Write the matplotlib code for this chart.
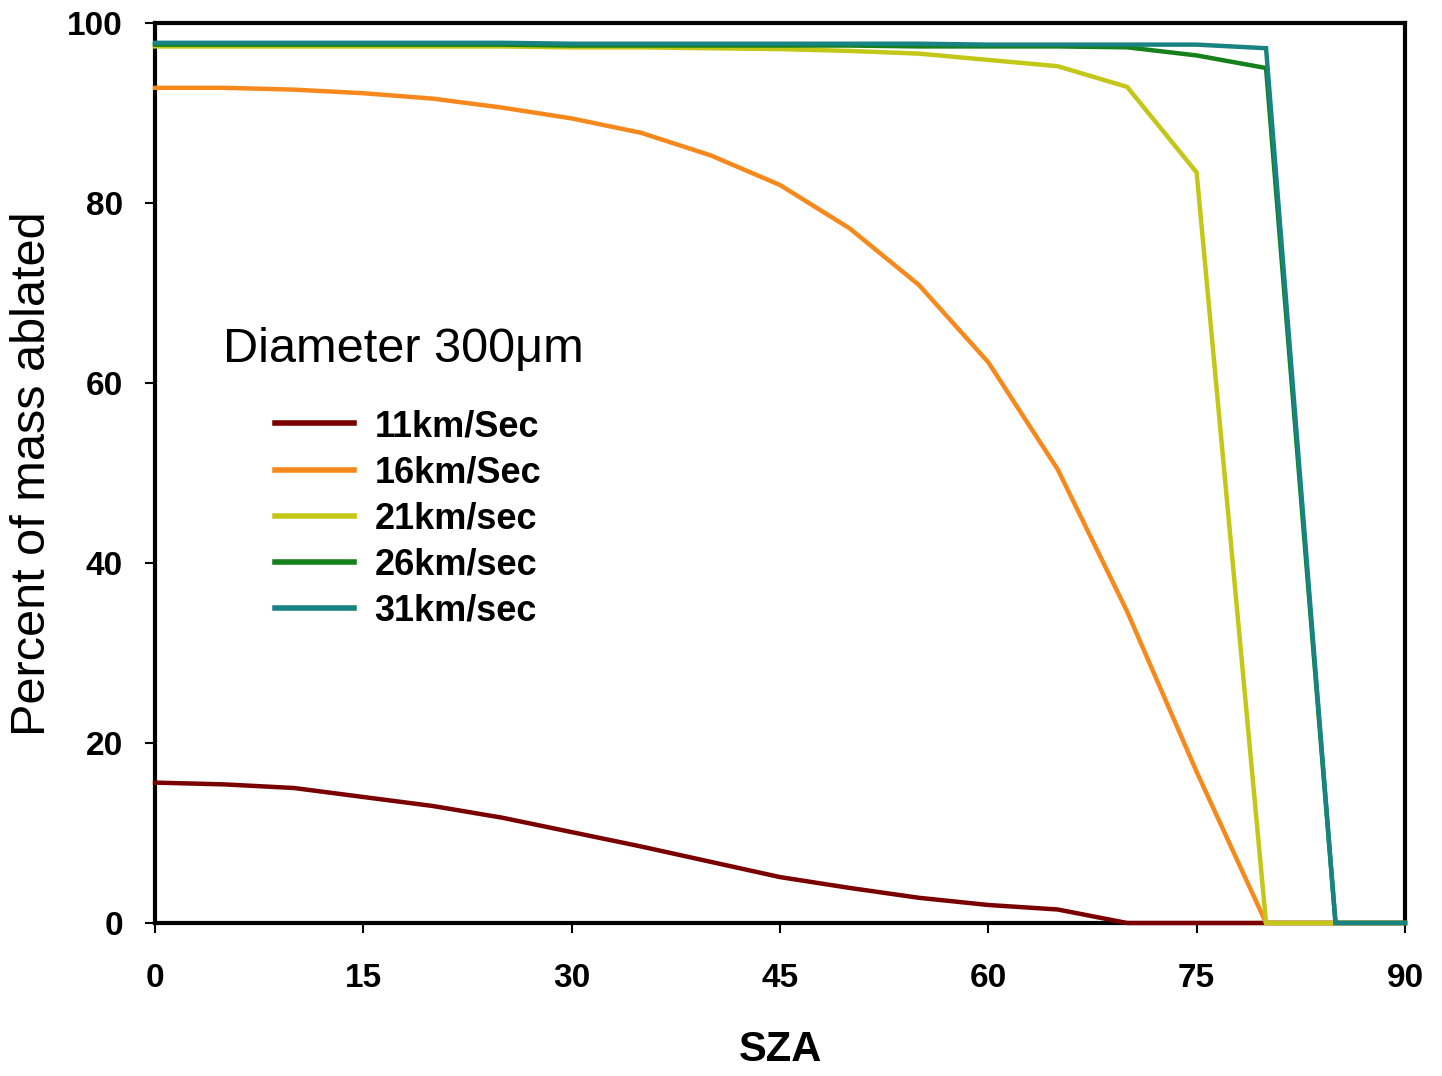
import matplotlib
matplotlib.use('Agg')
import matplotlib.pyplot as plt

plt.rcParams['font.family'] = ['Liberation Sans', 'DejaVu Sans']

sza = [0, 5, 10, 15, 20, 25, 30, 35, 40, 45, 50, 55, 60, 65, 70, 75, 80, 85, 90]

v11 = [15.6, 15.4, 15.0, 14.0, 13.0, 11.7, 10.1, 8.5, 6.8, 5.1, 3.9, 2.8, 2.0, 1.5, 0, 0, 0, 0, 0]
v16 = [92.8, 92.8, 92.6, 92.2, 91.6, 90.6, 89.4, 87.8, 85.3, 82.0, 77.2, 70.9, 62.3, 50.4, 34.6, 16.8, 0, 0, 0]
v21 = [97.4, 97.4, 97.4, 97.4, 97.4, 97.4, 97.3, 97.3, 97.2, 97.1, 96.9, 96.6, 95.9, 95.2, 92.9, 83.4, 0, 0, 0]
v26 = [97.6, 97.6, 97.6, 97.6, 97.6, 97.6, 97.5, 97.5, 97.5, 97.5, 97.5, 97.4, 97.4, 97.4, 97.3, 96.4, 95.0, 0, 0]
v31 = [97.8, 97.8, 97.8, 97.8, 97.8, 97.8, 97.7, 97.7, 97.7, 97.7, 97.7, 97.7, 97.6, 97.6, 97.6, 97.6, 97.2, 0, 0]

labels = ['11km/Sec', '16km/Sec', '21km/sec', '26km/sec', '31km/sec']
colors = ['#7a0000', '#f7891c', '#c3c717', '#15801c', '#178383']

fig = plt.figure(figsize=(14.42, 10.76), dpi=100)
ax = fig.add_axes([0.1075, 0.1422, 0.8668, 0.8364])

# zero runs sit on top of the bottom spine, like the original
for vals, lab, col in zip([v11, v16, v21, v26, v31], labels, colors):
    ax.plot(sza, vals, color=col, lw=3.2, label=lab, solid_joinstyle='miter',
            clip_on=False, zorder=3)

ax.set_xlim(0, 90)
ax.set_ylim(0, 100)
ax.set_xticks([0, 15, 30, 45, 60, 75, 90])
ax.set_yticks([0, 20, 40, 60, 80, 100])
for s in ax.spines.values():
    s.set_linewidth(3)
ax.tick_params(direction='out', length=7, width=1.5, labelsize=24)
ax.tick_params(axis='x', pad=22)
ax.tick_params(axis='y', pad=16)
for t in ax.get_xticklabels() + ax.get_yticklabels():
    t.set_fontweight('bold')

ax.set_xlabel('SZA', fontsize=30, fontweight='bold', va='center')
ax.xaxis.set_label_coords(0.5, -0.141)
ax.set_ylabel('Percent of mass ablated', fontsize=35, va='center')
ax.yaxis.set_label_coords(-0.0984, 0.499)

ax.text(0.054, 0.637, 'Diameter 300\u03bcm', transform=ax.transAxes, fontsize=35,
        va='center', ha='left')
leg = ax.legend(loc='upper left', bbox_to_anchor=(0.096, 0.571), frameon=False,
                prop={'size': 26, 'weight': 'bold'}, handlelength=2.2,
                labelspacing=0.31, handletextpad=0.55, borderpad=0,
                borderaxespad=0)
for h in leg.get_lines():
    h.set_linewidth(4)

fig.savefig('out.png', dpi=100)
